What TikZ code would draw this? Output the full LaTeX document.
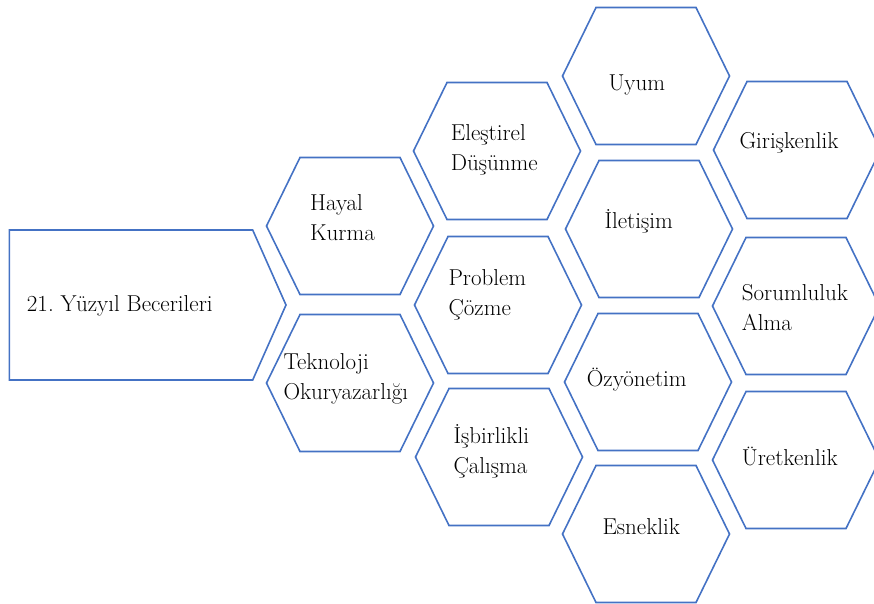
\documentclass[tikz,border=0pt]{standalone}
\usepackage{tikz}
\definecolor{cellblue}{RGB}{68,114,196}
\frenchspacing

\tikzset{
  cell/.style={draw=cellblue, line width=1.6pt, line join=miter},
  lbl/.style={inner sep=0pt, align=left, anchor=base west, font=\fontsize{23}{29.5}\selectfont}
}

\begin{document}
\begin{tikzpicture}[x=1pt,y=-1pt]
\useasboundingbox (0,0) rectangle (874,603);
\clip (0,0) rectangle (874,603);

% \draw[color=gray,step=50,thin] (0,0) grid (874,603);

% left box
\draw[cell] (9.3,230) -- (252.7,230) -- (286,305) -- (252.7,380) -- (9.3,380) -- cycle;
\node[lbl] (title) at (26.7,311.7) {21. Yüzyıl Becerileri};

% hexagon cells
\foreach \cx/\cy/\nm in {350/226/hayal, 350/383/tekno,
                         497/151/elestirel, 498/305/problem, 499/457/isbirlik,
                         646/76/uyum, 649/229/iletisim, 648/382/ozyonetim, 646/534/esneklik,
                         797/150/giriskenlik, 796/306/sorumluluk, 796/460/uretkenlik}
{
  \coordinate (\nm) at (\cx,\cy);
  \draw[cell] (\cx-83.5,\cy) -- (\cx-50,\cy-68.5) -- (\cx+50,\cy-68.5)
              -- (\cx+83.5,\cy) -- (\cx+50,\cy+68.5) -- (\cx-50,\cy+68.5) -- cycle;
}

% labels (base = last line)
\node[lbl] (hayaltxt) at (310,240) {Hayal\\Kurma};
\node[lbl] (teknotxt) at (283.3,399) {Teknoloji\\Okuryazarlığı};
\node[lbl] (elestireltxt) at (450.7,170) {Eleştirel\\Düşünme};
\node[lbl] (problemtxt) at (448.3,315) {Problem\\Çözme};
\node[lbl] (isbirliktxt) at (453.3,473.3) {İşbirlikli\\Çalışma};
\node[lbl] (uyumtxt) at (608.3,90) {Uyum};
\node[lbl] (iletisimtxt) at (604.3,228.7) {İletişim};
\node[lbl] (ozyonetimtxt) at (586.7,386) {Özyönetim};
\node[lbl] (esnekliktxt) at (602.3,534.3) {Esneklik};
\node[lbl] (giriskenliktxt) at (739.3,148.3) {Girişkenlik};
\node[lbl] (sorumluluktxt) at (741.7,330) {Sorumluluk\\Alma};
\node[lbl] (uretkenliktxt) at (741.7,465.7) {Üretkenlik};

\end{tikzpicture}
\end{document}
